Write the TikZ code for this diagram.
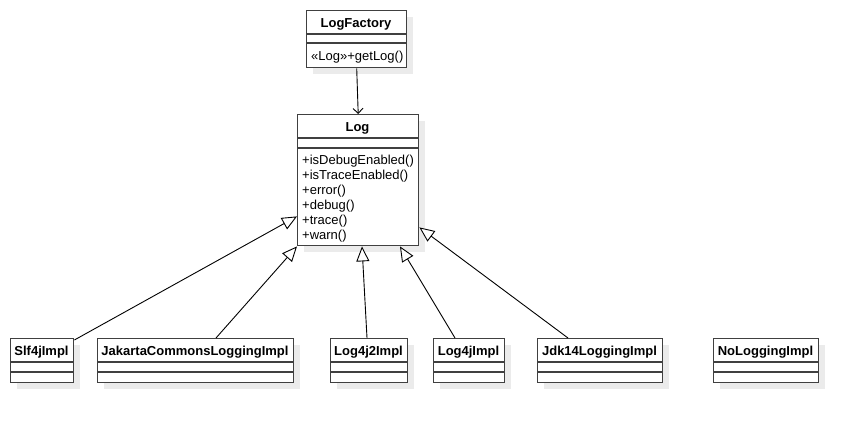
\documentclass[tikz,border=0pt]{standalone}
\usepackage{fontspec}
\setmainfont{Liberation Sans}
\usetikzlibrary{arrows.meta,shadows}
\begin{document}
\begin{tikzpicture}[x=1pt,y=-1pt,
  box/.style={draw=black!75, line width=1.4pt, fill=white, anchor=north west, inner sep=0pt,
    drop shadow={shadow xshift=6pt, shadow yshift=-6pt, fill=black!8, opacity=1}},
  sep/.style={draw=black!75, line width=1.2pt},
  title/.style={font=\fontsize{13}{15}\selectfont\bfseries, inner sep=0pt},
  meth/.style={font=\fontsize{13}{15}\selectfont, inner sep=0pt, anchor=west},
  gen/.style={draw=black, line width=0.9pt, -{Triangle[open,length=15pt,width=13pt,fill=white]}},
  dep/.style={draw=black, line width=0.9pt, -{Straight Barb[length=5pt,width=10pt]}}]
\path[use as bounding box] (0,0) rectangle (858,422);

% LogFactory
\node[box, minimum width=100pt, minimum height=57pt] (lf) at (306,10) {};
\draw[sep] (306,34) -- (406,34);
\draw[sep] (306,43) -- (406,43);
\node[title] (lft) at (356,24) {LogFactory};
\node[meth] (lfm) at (311,57) {«Log»+getLog()};

% Log
\node[box, minimum width=121pt, minimum height=131pt] (log) at (297,114) {};
\draw[sep] (297,138) -- (418,138);
\draw[sep] (297,148) -- (418,148);
\node[title] (logt) at (357.5,128) {Log};
\node[meth] (m1) at (302,161) {+isDebugEnabled()};
\node[meth] (m2) at (302,176) {+isTraceEnabled()};
\node[meth] (m3) at (302,191) {+error()};
\node[meth] (m4) at (302,206) {+debug()};
\node[meth] (m5) at (302,221) {+trace()};
\node[meth] (m6) at (302,236) {+warn()};

% bottom classes
\node[box, minimum width=63pt, minimum height=44pt] (slf) at (10,338) {};
\draw[sep] (10,362) -- (73,362);
\draw[sep] (10,372) -- (73,372);
\node[title] (slft) at (41.5,352) {Slf4jImpl};

\node[box, minimum width=196pt, minimum height=44pt] (jak) at (97,338) {};
\draw[sep] (97,362) -- (293,362);
\draw[sep] (97,372) -- (293,372);
\node[title] (jakt) at (195,352) {JakartaCommonsLoggingImpl};

\node[box, minimum width=77pt, minimum height=44pt] (l42) at (330,338) {};
\draw[sep] (330,362) -- (407,362);
\draw[sep] (330,372) -- (407,372);
\node[title] (l42t) at (368.5,352) {Log4j2Impl};

\node[box, minimum width=71pt, minimum height=44pt] (l4) at (433,338) {};
\draw[sep] (433,362) -- (504,362);
\draw[sep] (433,372) -- (504,372);
\node[title] (l4t) at (468.5,352) {Log4jImpl};

\node[box, minimum width=125pt, minimum height=44pt] (jdk) at (537,338) {};
\draw[sep] (537,362) -- (662,362);
\draw[sep] (537,372) -- (662,372);
\node[title] (jdkt) at (599.5,352) {Jdk14LoggingImpl};

\node[box, minimum width=105pt, minimum height=44pt] (nol) at (713,338) {};
\draw[sep] (713,362) -- (818,362);
\draw[sep] (713,372) -- (818,372);
\node[title] (nolt) at (765.5,352) {NoLoggingImpl};

% connectors
\draw[dep] (lf.south) -- (log.north);
\draw[gen] ([yshift=-2pt]slf.north east) -- ([yshift=30pt]log.south west);
\draw[gen] ([xshift=119pt]jak.north west) -- (log.south west);
\draw[gen] ([xshift=37pt]l42.north west) -- ([xshift=65pt]log.south west);
\draw[gen] ([xshift=22pt]l4.north west) -- ([xshift=103pt]log.south west);
\draw[gen] ([xshift=31pt]jdk.north west) -- ([yshift=19pt]log.south east);
\end{tikzpicture}
\end{document}
